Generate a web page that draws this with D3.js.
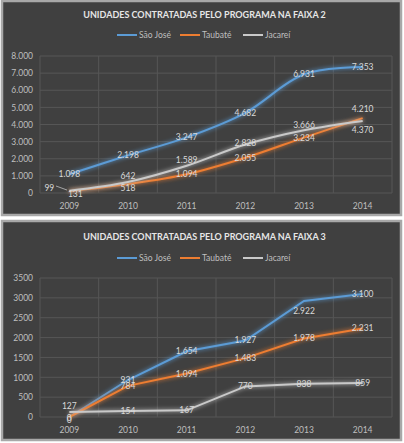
<!DOCTYPE html>
<html><head><meta charset="utf-8">
<script src="https://cdn.jsdelivr.net/npm/d3@7"></script>
<style>
html,body{margin:0;padding:0;background:#ffffff;}
svg{display:block;}
text{font-family:Lato,"Open Sans",sans-serif;}
</style></head>
<body>
<svg id="c" width="404" height="443"></svg>
<script>
// ---- data ----
const years = ["2009","2010","2011","2012","2013","2014"];
const seriesNames = ["São José","Taubaté","Jacareí"];

const titleFaixa2 = "UNIDADES CONTRATADAS PELO PROGRAMA NA FAIXA 2";
const f2SaoJose = [1098,2198,3247,4682,6931,7353];
const f2Taubate = [99,518,1094,2055,3234,4370];
const f2Jacarei = [131,642,1589,2828,3666,4210];
const f2Ticks = [0,1000,2000,3000,4000,5000,6000,7000,8000];

const titleFaixa3 = "UNIDADES CONTRATADAS PELO PROGRAMA NA FAIXA 3";
const f3SaoJose = [0,931,1654,1927,2922,3100];
const f3Taubate = [0,784,1094,1483,1978,2231];
const f3Jacarei = [127,154,167,770,838,859];
const f3Ticks = [0,500,1000,1500,2000,2500,3000,3500];

// label placement offsets (style, not data)
const f2LabelDy = [[0,0,0,0,0,0],[-3,4,0,0,0,12],[3,-6,-6,-2,-5,-12]];
const f2LabelDx = [[0,0,0,0,0,0],[-20,0,0,0,0,0],[6,0,0,0,0,0]];
const f3LabelDy = [[1,0,0,0,10,0],[3,0,0,0,0,0],[-6,0,0,0,0,0]];
const f3LabelDx = [[0,0,0,0,0,0],[0,0,0,0,0,0],[0,0,0,0,0,0]];

const colors = ["#5b9bd5","#ed7d31","#c9c9c9"];

const ptFmt = v => d3.format(",")(v).replace(/,/g,".");

const svg = d3.select("#c");
const defs = svg.append("defs");
colors.forEach((c,i)=>{
  const f = defs.append("filter").attr("id","glow"+i).attr("x","-20%").attr("y","-50%").attr("width","140%").attr("height","200%");
  f.append("feGaussianBlur").attr("in","SourceGraphic").attr("stdDeviation",2.2).attr("result","b");
  const m = f.append("feMerge");
  m.append("feMergeNode").attr("in","b");
  m.append("feMergeNode").attr("in","SourceGraphic");
});

function panel(cfg){
  const g = svg.append("g");
  g.append("rect").attr("x",cfg.box[0]).attr("y",cfg.box[1]).attr("width",cfg.box[2]).attr("height",cfg.box[3])
    .attr("fill","#404040").attr("stroke","#a8a8a8").attr("stroke-width",2.5);
  const x = d3.scaleBand().domain(years).range(cfg.xr).padding(0);
  const y = d3.scaleLinear().domain([0, cfg.ticks[cfg.ticks.length-1]]).range(cfg.yr);

  // gridlines
  g.append("g").selectAll("line.h").data(cfg.ticks).join("line")
    .attr("x1",cfg.xr[0]).attr("x2",cfg.xr[1]).attr("y1",d=>y(d)).attr("y2",d=>y(d))
    .attr("stroke","#565656").attr("stroke-width",1);
  const edges = years.map(d=>x(d)).concat([cfg.xr[1]]);
  g.append("g").selectAll("line.v").data(edges).join("line")
    .attr("x1",d=>d).attr("x2",d=>d).attr("y1",cfg.yr[1]).attr("y2",cfg.yr[0])
    .attr("stroke","#565656").attr("stroke-width",1);

  // y axis labels
  const ya = g.append("g").attr("transform",`translate(${cfg.xr[0]-7},0)`)
    .call(d3.axisLeft(y).tickValues(cfg.ticks).tickSize(0).tickPadding(0).tickFormat(cfg.yFmt));
  ya.select(".domain").remove();
  ya.selectAll("text").attr("fill","#bfbfbf").style("font-size","8.5px").style("font-family","Lato");

  // x axis labels
  const xa = g.append("g").attr("transform",`translate(0,${cfg.yr[0]+7})`)
    .call(d3.axisBottom(x).tickSize(0).tickPadding(3));
  xa.select(".domain").remove();
  xa.selectAll("text").attr("fill","#bfbfbf").style("font-size","8.5px").style("font-family","Lato");

  // title
  g.append("text").attr("x",(cfg.box[0]+cfg.box[0]+cfg.box[2])/2+3).attr("y",cfg.titleY)
    .attr("text-anchor","middle").attr("fill","#e6e6e6").style("font-size","9px").style("font-weight","bold")
    .text(cfg.title);

  // legend
  const lg = g.append("g");
  const lx = [117,180,243];
  seriesNames.forEach((n,i)=>{
    lg.append("line").attr("x1",lx[i]).attr("x2",lx[i]+20).attr("y1",cfg.legendY).attr("y2",cfg.legendY)
      .attr("stroke",colors[i]).attr("stroke-width",2);
    lg.append("text").attr("x",lx[i]+22).attr("y",cfg.legendY+3).attr("fill","#bfbfbf")
      .style("font-size","8.5px").text(n);
  });

  // lines
  const line = d3.line().x((d,i)=>x(years[i])+x.bandwidth()/2).y(d=>y(d)).curve(cfg.curve);
  cfg.series.forEach((s,k)=>{
    const i = 2-k; // draw gray, orange, blue order? keep natural
  });
  cfg.series.forEach((s,i)=>{
    g.append("path").datum(s).attr("d",line).attr("fill","none").attr("stroke",colors[i])
      .attr("stroke-width",2).attr("filter",`url(#glow${i})`);
  });

  // leader line if provided
  if(cfg.leader){
    g.append("line").attr("x1",cfg.leader[0]).attr("y1",cfg.leader[1]).attr("x2",cfg.leader[2]).attr("y2",cfg.leader[3])
      .attr("stroke","#bfbfbf").attr("stroke-width",0.8);
  }

  // data labels
  cfg.series.forEach((s,i)=>{
    g.append("g").selectAll("text").data(s).join("text")
      .attr("x",(d,j)=>x(years[j])+x.bandwidth()/2+cfg.dx[i][j])
      .attr("y",(d,j)=>y(d)+cfg.dy[i][j]+3)
      .attr("text-anchor","middle").attr("fill","#d9d9d9").style("font-size","8.5px")
      .text(d=>ptFmt(d));
  });
}

panel({
  box:[2,1,399,214], xr:[40,392], yr:[193,56], ticks:f2Ticks, yFmt:ptFmt,
  title:titleFaixa2, titleY:18, legendY:35,
  series:[f2SaoJose,f2Taubate,f2Jacarei], dy:f2LabelDy, dx:f2LabelDx,
  curve:d3.curveCatmullRom.alpha(0.5), leader:[56,186,67,190]
});
panel({
  box:[2,221,399,219], xr:[40,392], yr:[417,278], ticks:f3Ticks, yFmt:d3.format("d"),
  title:titleFaixa3, titleY:240, legendY:258,
  series:[f3SaoJose,f3Taubate,f3Jacarei], dy:f3LabelDy, dx:f3LabelDx,
  curve:d3.curveLinear
});
</script>
</body></html>
